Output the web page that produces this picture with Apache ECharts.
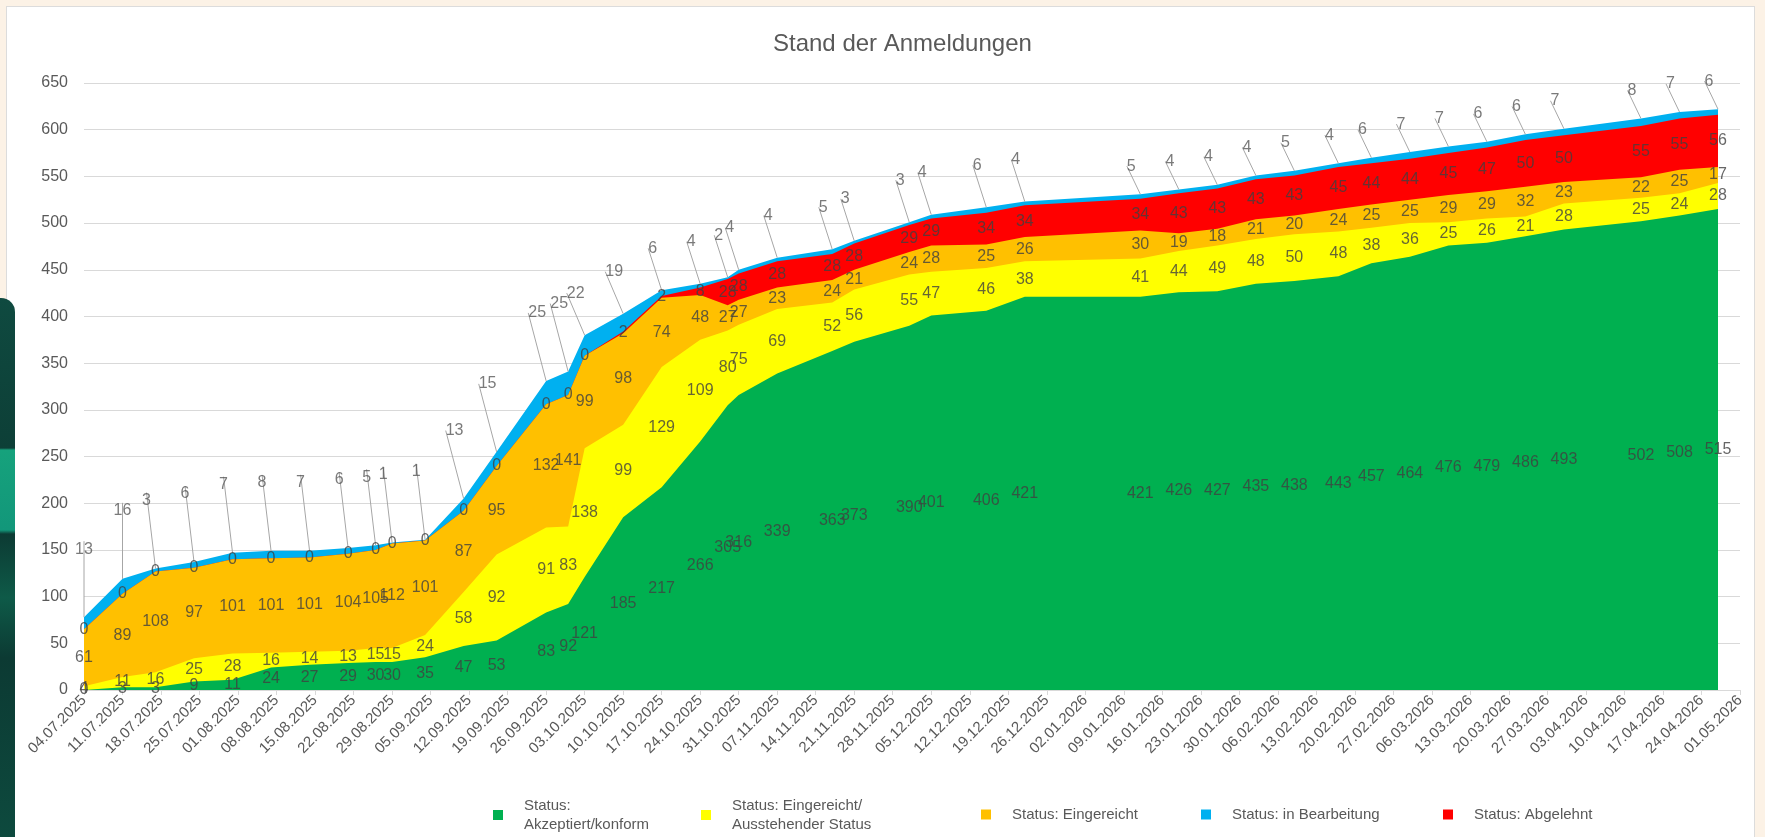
<!DOCTYPE html>
<html>
<head>
<meta charset="utf-8">
<script src="https://cdn.jsdelivr.net/npm/echarts@6/dist/echarts.min.js"></script>
<style>
  html, body { margin: 0; padding: 0; width: 1765px; height: 837px; overflow: hidden; background: #fcf2e6; }
  #frame { position: absolute; left: 6px; top: 6px; width: 1747px; height: 850px; background: #fff; border: 1px solid #dcdcdc; }
  #deco { position: absolute; left: 0; top: 298px; width: 15px; height: 540px; border-radius: 0 14px 0 0;
    background: linear-gradient(to bottom, #0f4a40 0px, #0d3f37 150px, #16a27c 152px, #12977a 232px, #0c3a33 236px, #0e5a48 300px, #0c3a33 360px, #0d4a3e 540px); }
  #chart { position: absolute; left: 0; top: 0; width: 1765px; height: 837px; }
</style>
</head>
<body>
<div id="frame"></div>
<div id="deco"></div>
<div id="chart"></div>
<script>
// Stichtage der Auswertung
const dates = [
  '2025-07-04', '2025-07-11', '2025-07-17', '2025-07-24', '2025-07-31', '2025-08-07', '2025-08-14',
  '2025-08-21', '2025-08-26', '2025-08-29', '2025-09-04', '2025-09-11', '2025-09-17', '2025-09-26',
  '2025-09-30', '2025-10-03', '2025-10-10', '2025-10-17', '2025-10-24', '2025-10-29', '2025-10-31',
  '2025-11-07', '2025-11-17', '2025-11-21', '2025-12-01', '2025-12-05', '2025-12-15', '2025-12-22',
  '2026-01-12', '2026-01-19', '2026-01-26', '2026-02-02', '2026-02-09', '2026-02-17', '2026-02-23',
  '2026-03-02', '2026-03-09', '2026-03-16', '2026-03-23', '2026-03-30', '2026-04-13', '2026-04-20',
  '2026-04-27'
];

const akzeptiert = [0, 3, 3, 9, 11, 24, 27, 29, 30, 30, 35, 47, 53, 83, 92, 121, 185, 217, 266, 305, 316,
  339, 363, 373, 390, 401, 406, 421, 421, 426, 427, 435, 438, 443, 457, 464, 476, 479, 486, 493, 502, 508, 515];
const ausstehend = [4, 11, 16, 25, 28, 16, 14, 13, 15, 15, 24, 58, 92, 91, 83, 138, 99, 129, 109, 80, 75,
  69, 52, 56, 55, 47, 46, 38, 41, 44, 49, 48, 50, 48, 38, 36, 25, 26, 21, 28, 25, 24, 28];
const eingereicht = [61, 89, 108, 97, 101, 101, 101, 104, 105, 112, 101, 87, 95, 132, 141, 99, 98, 74, 48, 27, 27,
  23, 24, 21, 24, 28, 25, 26, 30, 19, 18, 21, 20, 24, 25, 25, 29, 29, 32, 23, 22, 25, 17];
const abgelehnt = [0, 0, 0, 0, 0, 0, 0, 0, 0, 0, 0, 0, 0, 0, 0, 0, 2, 2, 8, 28, 28,
  28, 28, 28, 29, 29, 34, 34, 34, 43, 43, 43, 43, 45, 44, 44, 45, 47, 50, 50, 55, 55, 56];
const inBearbeitung = [13, 16, 3, 6, 7, 8, 7, 6, 5, 1, 1, 13, 15, 25, 25, 22, 19, 6, 4, 2, 4,
  4, 5, 3, 3, 4, 6, 4, 5, 4, 4, 4, 5, 4, 6, 7, 7, 6, 6, 7, 8, 7, 6];

const axisStart = '2025-07-04';
const axisEnd = '2026-05-01';

const DAY = 86400000;
const toTs = s => { const p = s.split('-').map(Number); return Date.UTC(p[0], p[1] - 1, p[2]); };
const t0 = toTs(axisStart);
const xs = dates.map(d => (toTs(d) - t0) / DAY);
const xMax = (toTs(axisEnd) - t0) / DAY;

const fmtDate = v => {
  const d = new Date(t0 + v * DAY);
  const pad = n => (n < 10 ? '0' : '') + n;
  return pad(d.getUTCDate()) + '.' + pad(d.getUTCMonth() + 1) + '.' + d.getUTCFullYear();
};

const FONT = '"Liberation Sans", Arial, sans-serif';

// von unten nach oben gestapelt
const layers = [
  { name: 'Status: Akzeptiert/konform', vals: akzeptiert, color: '#00b050' },
  { name: 'Status: Eingereicht/ Ausstehender Status', vals: ausstehend, color: '#ffff00' },
  { name: 'Status: Eingereicht', vals: eingereicht, color: '#ffc000' },
  { name: 'Status: Abgelehnt', vals: abgelehnt, color: '#ff0000' },
  { name: 'Status: in Bearbeitung', vals: inBearbeitung, color: '#00b0f0' }
];

// kumulierte Summen je Schicht (Unter- und Oberkante)
const lower = [], upper = [];
let run = xs.map(() => 0);
layers.forEach(l => {
  lower.push(run.slice());
  run = run.map((v, i) => v + l.vals[i]);
  upper.push(run.slice());
});

const areaSeries = [];
const labelSeries = [];

layers.forEach((l, k) => {
  // Flaeche von 0 bis zur Oberkante; obere Schichten liegen hinten
  areaSeries.unshift({
    name: l.name,
    type: 'line',
    data: xs.map((x, i) => [x, upper[k][i]]),
    symbol: 'none',
    lineStyle: { width: 0 },
    itemStyle: { color: l.color },
    areaStyle: { color: l.color, opacity: 1, origin: 'start' },
    silent: true,
    z: 2
  });

  const isTop = k === layers.length - 1;
  labelSeries.push({
    name: 'lbl' + k,
    type: 'scatter',
    symbolSize: 0,
    silent: true,
    z: 5,
    data: xs.map((x, i) => [x, isTop ? upper[k][i] : (lower[k][i] + upper[k][i]) / 2, l.vals[i]]),
    label: {
      show: true,
      position: 'inside',
      formatter: p => String(p.value[2]),
      color: isTop ? '#595959' : '#404040',
      fontSize: 16,
      fontFamily: FONT
    },
    labelLine: isTop ? { show: true, lineStyle: { color: '#a6a6a6', width: 1 } } : { show: false },
    labelLayout: isTop ? (p => ({
      dx: p.dataIndex < 2 ? 0 : -9,
      dy: p.dataIndex < 15 ? -68 : (p.dataIndex < 28 ? -42 : -28)
    })) : undefined
  });
});

const legendItems = [
  { name: 'Status: Akzeptiert/konform', text: 'Status:\nAkzeptiert/konform', left: 488, top: 791 },
  { name: 'Status: Eingereicht/ Ausstehender Status', text: 'Status: Eingereicht/\nAusstehender Status', left: 696, top: 791 },
  { name: 'Status: Eingereicht', text: 'Status: Eingereicht', left: 976, top: 800 },
  { name: 'Status: in Bearbeitung', text: 'Status: in Bearbeitung', left: 1196, top: 800 },
  { name: 'Status: Abgelehnt', text: 'Status: Abgelehnt', left: 1438, top: 800 }
];

const chart = echarts.init(document.getElementById('chart'));
chart.setOption({
  animation: false,
  textStyle: { fontFamily: FONT },
  title: {
    text: 'Stand der Anmeldungen',
    left: 768,
    top: 27,
    textStyle: { fontSize: 24, fontWeight: 'normal', color: '#595959', fontFamily: FONT }
  },
  legend: legendItems.map(it => ({
    data: [it.name],
    left: it.left,
    top: it.top,
    icon: 'rect',
    itemWidth: 10,
    itemHeight: 10,
    selectedMode: false,
    formatter: () => it.text,
    textStyle: { color: '#595959', fontSize: 15, lineHeight: 19, fontFamily: FONT, padding: [0, 0, 0, 16] }
  })),
  grid: { left: 84, right: 25, top: 83, bottom: 147 },
  xAxis: {
    type: 'value',
    min: 0,
    max: xMax,
    interval: 7,
    axisLine: { show: true, lineStyle: { color: '#d9d9d9' } },
    axisTick: { show: true, length: 5, lineStyle: { color: '#d9d9d9' } },
    splitLine: { show: false },
    axisLabel: { rotate: 45, formatter: fmtDate, color: '#595959', fontSize: 15, margin: 8, fontFamily: FONT }
  },
  yAxis: {
    type: 'value',
    min: 0,
    max: 650,
    interval: 50,
    axisLine: { show: false },
    axisTick: { show: false },
    splitLine: { lineStyle: { color: '#d9d9d9' } },
    axisLabel: { color: '#595959', fontSize: 16, margin: 16, fontFamily: FONT }
  },
  series: areaSeries.concat(labelSeries)
});
</script>
</body>
</html>
